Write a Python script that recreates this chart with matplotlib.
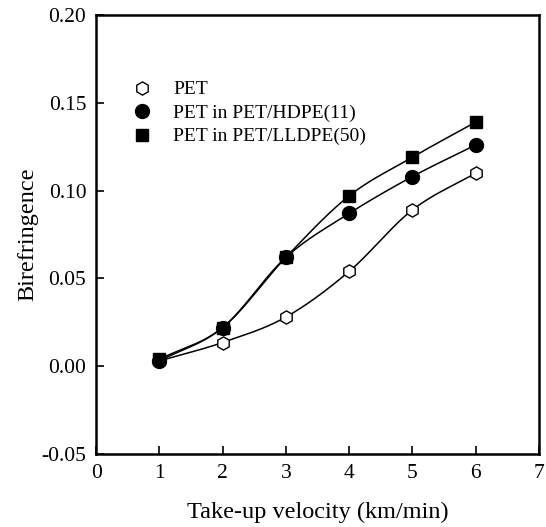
import numpy as np
import matplotlib
matplotlib.use("Agg")
import matplotlib.pyplot as plt
from matplotlib.lines import Line2D

plt.rcParams['font.family'] = ['Liberation Serif', 'DejaVu Serif']

velocity = [1, 2, 3, 4, 5, 6]
pet = [0.003, 0.0135, 0.028, 0.054, 0.089, 0.110]
pet_hdpe = [0.003, 0.022, 0.062, 0.087, 0.108, 0.126]
pet_lldpe = [0.004, 0.022, 0.062, 0.097, 0.119, 0.139]

labels = ["PET", "PET in PET/HDPE(11)", "PET in PET/LLDPE(50)"]


def smooth(x, y, n=30):
    # catmull-rom through the points, just for the connecting curve
    x = np.asarray(x, float)
    y = np.asarray(y, float)
    px = np.concatenate([[2 * x[0] - x[1]], x, [2 * x[-1] - x[-2]]])
    py = np.concatenate([[2 * y[0] - y[1]], y, [2 * y[-1] - y[-2]]])
    xs, ys = [], []
    t = np.linspace(0, 1, n)
    for i in range(1, len(px) - 2):
        for p, out in ((px, xs), (py, ys)):
            p0, p1, p2, p3 = p[i - 1], p[i], p[i + 1], p[i + 2]
            out.extend(0.5 * (2 * p1 + (-p0 + p2) * t
                              + (2 * p0 - 5 * p1 + 4 * p2 - p3) * t ** 2
                              + (-p0 + 3 * p1 - 3 * p2 + p3) * t ** 3))
    return xs, ys


fig = plt.figure(figsize=(5.46, 5.27), dpi=100)
ax = fig.add_axes([0.176, 0.1385, 0.811, 0.833])

series = [
    (pet, "h", "white", 9.5),
    (pet_hdpe, "o", "black", 10),
    (pet_lldpe, "s", "black", 9),
]
for vals, m, fc, ms in series:
    sx, sy = smooth(velocity, vals)
    ax.plot(sx, sy, color="black", lw=1.1, zorder=2)
for vals, m, fc, ms in series:
    ax.plot(velocity, vals, linestyle="none", marker=m, markersize=ms,
            markerfacecolor=fc, markeredgecolor="black", markeredgewidth=1.0, zorder=3)

handles = [Line2D([], [], linestyle="none", marker=m, markersize=ms,
                  markerfacecolor=fc, markeredgecolor="black")
           for vals, m, fc, ms in series]
ax.legend(handles, labels, loc="upper left", bbox_to_anchor=(0.02, 0.89),
          frameon=False, fontsize=14, handletextpad=0.6, labelspacing=0.3)

ax.set_xlim(0, 7)
ax.set_ylim(-0.05, 0.20)
ax.set_xticks(range(0, 8))
ax.set_yticks([-0.05, 0.0, 0.05, 0.10, 0.15, 0.20])
ax.set_yticklabels(["-0.05", "0.00", "0.05", "0.10", "0.15", "0.20"])
ax.tick_params(direction="in", length=6, width=1.2, labelsize=15.5, pad=7)
for s in ax.spines.values():
    s.set_linewidth(1.8)

ax.set_xlabel("Take-up velocity (km/min)", fontsize=17.5, labelpad=14)
ax.set_ylabel("Birefringence", fontsize=17.5, labelpad=2)

fig.savefig("out.png", dpi=100)
